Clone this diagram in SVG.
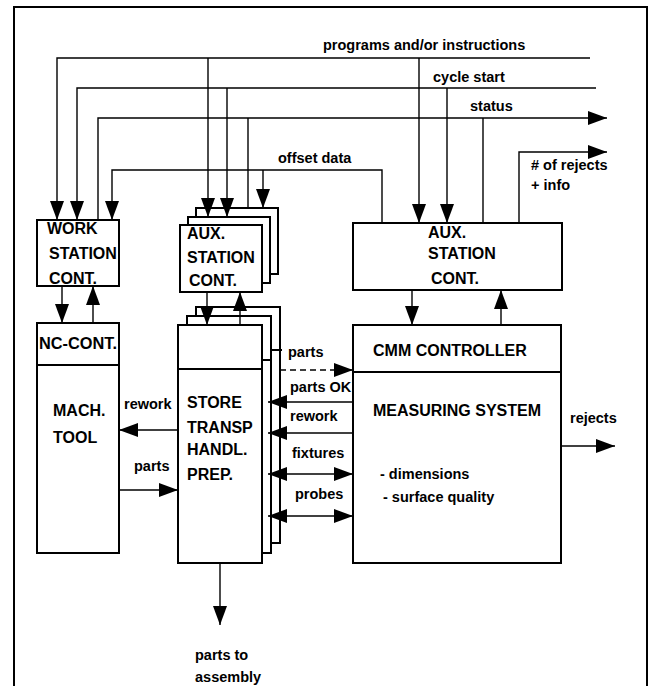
<svg xmlns="http://www.w3.org/2000/svg" width="653" height="686" viewBox="0 0 653 686">
<style>
.box{fill:#fff;stroke:#000;stroke-width:2}
.ln{fill:none;stroke:#000;stroke-width:1.4}
.fr{fill:none;stroke:#000;stroke-width:2}
.bl{font-family:"Liberation Sans",Arial,sans-serif;font-weight:bold;font-size:16px;fill:#000}
.lb{font-family:"Liberation Sans",Arial,sans-serif;font-weight:bold;font-size:14.5px;fill:#000}
</style>
<defs>
<marker id="ah" viewBox="0 0 19 14" refX="19" refY="7" markerWidth="19" markerHeight="14" orient="auto-start-reverse" markerUnits="userSpaceOnUse"><path d="M0,0 L19,7 L0,14 z" fill="#000"/></marker>
</defs>
<rect width="653" height="686" fill="#fff"/>
<path class="fr" d="M14,686 V7 H647 V686"/>

<g id="work-station">
<rect class="box" x="37" y="220" width="82" height="66"/>
<text class="bl" x="47" y="234">WORK</text>
<text class="bl" x="49" y="259">STATION</text>
<text class="bl" x="49" y="284">CONT.</text>
</g>

<g id="nc-mach-tool">
<rect class="box" x="37" y="323" width="82" height="230"/>
<line class="box" x1="37" y1="365" x2="119" y2="365"/>
<text class="bl" x="39" y="349" textLength="78" lengthAdjust="spacingAndGlyphs">NC-CONT.</text>
<text class="bl" x="53" y="416">MACH.</text>
<text class="bl" x="53" y="443">TOOL</text>
</g>

<g id="aux-station-mid">
<rect class="box" x="196" y="208" width="82" height="66"/>
<rect class="box" x="188" y="217" width="82" height="66"/>
<rect class="box" x="180" y="225" width="82" height="67"/>
<text class="bl" x="187" y="239">AUX.</text>
<text class="bl" x="187" y="263">STATION</text>
<text class="bl" x="189" y="286">CONT.</text>
</g>

<g id="store">
<rect class="box" x="196" y="307" width="84" height="236"/>
<line class="box" x1="271" y1="350" x2="282" y2="350"/>
<rect class="box" x="187" y="316" width="84" height="237"/>
<line class="box" x1="262" y1="360" x2="271" y2="360"/>
<rect class="box" x="178" y="325" width="84" height="238"/>
<line class="box" x1="178" y1="369" x2="262" y2="369"/>
<text class="bl" x="187" y="408">STORE</text>
<text class="bl" x="187" y="433">TRANSP</text>
<text class="bl" x="187" y="455">HANDL.</text>
<text class="bl" x="187" y="480">PREP.</text>
</g>

<g id="aux-station-right">
<rect class="box" x="353" y="223" width="209" height="67"/>
<text class="bl" x="428" y="238">AUX.</text>
<text class="bl" x="428" y="259">STATION</text>
<text class="bl" x="431" y="284">CONT.</text>
</g>

<g id="cmm">
<rect class="box" x="353" y="325" width="208" height="238"/>
<line class="box" x1="353" y1="372" x2="561" y2="372"/>
<text class="bl" x="373" y="356">CMM CONTROLLER</text>
<text class="bl" x="373" y="416">MEASURING SYSTEM</text>
<text class="lb" x="380" y="479">- dimensions</text>
<text class="lb" x="383" y="502">- surface quality</text>
</g>

<g id="connectors">
<path class="ln" d="M590,58 H57 V220" marker-end="url(#ah)"/>
<path class="ln" d="M208,58 V217" marker-end="url(#ah)"/>
<path class="ln" d="M419,58 V223" marker-end="url(#ah)"/>
<path class="ln" d="M596,88 H77 V220" marker-end="url(#ah)"/>
<path class="ln" d="M227,88 V217" marker-end="url(#ah)"/>
<path class="ln" d="M447,88 V223" marker-end="url(#ah)"/>
<path class="ln" d="M98,220 V118 H607" marker-end="url(#ah)"/>
<path class="ln" d="M248,118 V208"/>
<path class="ln" d="M483,118 V223"/>
<path class="ln" d="M382,223 V170 H112 V220" marker-end="url(#ah)"/>
<path class="ln" d="M263,170 V208" marker-end="url(#ah)"/>
<path class="ln" d="M519,223 V152 H607" marker-end="url(#ah)"/>
<path class="ln" d="M62,286 V323" marker-end="url(#ah)"/>
<path class="ln" d="M93,323 V286" marker-end="url(#ah)"/>
<path class="ln" d="M207,292 V325" marker-end="url(#ah)"/>
<path class="ln" d="M240,325 V292" marker-end="url(#ah)"/>
<path class="ln" d="M412,290 V325" marker-end="url(#ah)"/>
<path class="ln" d="M501,325 V290" marker-end="url(#ah)"/>
<path class="ln" d="M178,430 H119" marker-end="url(#ah)"/>
<path class="ln" d="M119,490 H178" marker-end="url(#ah)"/>
<path class="ln" d="M280,370 H353" stroke-dasharray="6,4" marker-end="url(#ah)"/>
<path class="ln" d="M353,402 H268" marker-end="url(#ah)"/>
<path class="ln" d="M353,433 H268" marker-end="url(#ah)"/>
<path class="ln" d="M268,474 H353" marker-start="url(#ah)" marker-end="url(#ah)"/>
<path class="ln" d="M268,516 H353" marker-start="url(#ah)" marker-end="url(#ah)"/>
<path class="ln" d="M561,446 H615" marker-end="url(#ah)"/>
<path class="ln" d="M220,563 V625" marker-end="url(#ah)"/>
</g>

<g id="labels">
<text class="lb" x="323" y="50">programs and/or instructions</text>
<text class="lb" x="433" y="82">cycle start</text>
<text class="lb" x="470" y="111">status</text>
<text class="lb" x="278" y="163">offset data</text>
<text class="lb" x="531" y="170"># of rejects</text>
<text class="lb" x="531" y="190">+ info</text>
<text class="lb" x="288" y="357">parts</text>
<text class="lb" x="290" y="392">parts OK</text>
<text class="lb" x="290" y="421">rework</text>
<text class="lb" x="292" y="458">fixtures</text>
<text class="lb" x="295" y="499">probes</text>
<text class="lb" x="124" y="409">rework</text>
<text class="lb" x="134" y="471">parts</text>
<text class="lb" x="570" y="423">rejects</text>
<text class="lb" x="195" y="660">parts to</text>
<text class="lb" x="195" y="682">assembly</text>
</g>
</svg>
